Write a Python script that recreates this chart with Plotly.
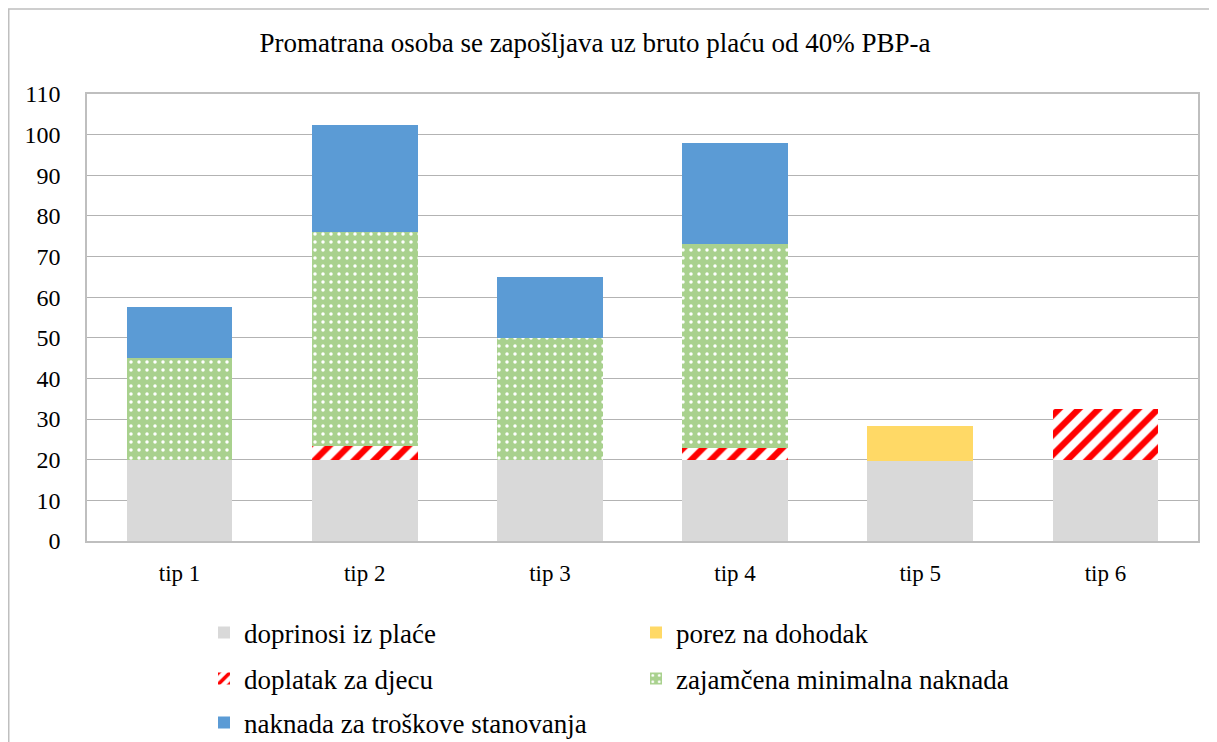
import plotly.graph_objects as go

categories = ["tip 1", "tip 2", "tip 3", "tip 4", "tip 5", "tip 6"]

doprinosi = [20, 20, 20, 20, 19.8, 20]
porez = [0, 0, 0, 0, 8.5, 0]
doplatak = [0, 3.5, 0, 3, 0, 12.5]
zajamcena = [25, 52.5, 30, 50, 0, 0]
naknada = [12.5, 26.3, 15, 25, 0, 0]

FONT = "Liberation Serif"

# the page body adds an 8px margin, so the figure is drawn 8px smaller
W, H = 1209, 734
L, T, R, B = 79, 86, 19, 201
PW, PH = W - L - R, H - T - B

fig = go.Figure()

fig.add_trace(go.Bar(x=categories, y=doprinosi, name="doprinosi iz plaće",
                     marker=dict(color="#d9d9d9"), legend="legend"))
fig.add_trace(go.Bar(x=categories, y=porez, name="porez na dohodak",
                     marker=dict(color="#ffd966"), legend="legend"))
fig.add_trace(go.Bar(x=categories, y=doplatak, name="doplatak za djecu",
                     marker=dict(color="white",
                                 pattern=dict(shape="/", fgcolor="#ff0000", bgcolor="white",
                                              size=14, solidity=0.45, fillmode="replace")),
                     legend="legend2"))
fig.add_trace(go.Bar(x=categories, y=zajamcena, name="zajamčena minimalna naknada",
                     marker=dict(color="#a9d18e",
                                 pattern=dict(shape=".", fgcolor="white", bgcolor="#a9d18e",
                                              size=8, solidity=0.15, fillmode="replace")),
                     legend="legend2"))
fig.add_trace(go.Bar(x=categories, y=naknada, name="naknada za troškove stanovanja",
                     marker=dict(color="#5b9bd5"), legend="legend3"))

fig.update_traces(marker_line_width=0, hoverinfo="skip")

legend_common = dict(orientation="h", xanchor="left", yanchor="middle",
                     entrywidth=387, entrywidthmode="pixels",
                     font=dict(family=FONT, size=27, color="black"),
                     bgcolor="rgba(0,0,0,0)", itemclick=False, traceorder="normal")

LX = (196 - L) / PW

fig.update_layout(
    width=W, height=H,
    barmode="stack", bargap=0.43,
    paper_bgcolor="white", plot_bgcolor="white",
    margin=dict(l=L, r=R, t=T, b=B, autoexpand=False),
    font=dict(family=FONT, size=20, color="black"),
    title=dict(text="Promatrana osoba se zapošljava uz bruto plaću od 40% PBP-a",
               x=587 / W, xref="container", xanchor="center",
               y=1 - 35 / H, yref="container", yanchor="middle",
               font=dict(family=FONT, size=27, color="black")),
    xaxis=dict(showgrid=False, showline=True, linecolor="#bfbfbf", linewidth=1.5,
               mirror=True, ticks="", ticklabelstandoff=11, automargin=False,
               tickfont=dict(family=FONT, size=23, color="black")),
    yaxis=dict(range=[0, 110], dtick=10, showgrid=True, gridcolor="#b3b3b3", gridwidth=1.2,
               showline=True, linecolor="#bfbfbf", linewidth=1.5, mirror=True,
               ticks="", ticklabelstandoff=20, zeroline=False, automargin=False,
               tickfont=dict(family=FONT, size=24, color="black")),
    legend=dict(x=LX, y=-(633 - 541) / PH, **legend_common),
    legend2=dict(x=LX, y=-(679 - 541) / PH, **legend_common),
    legend3=dict(x=LX, y=-(723 - 541) / PH, **legend_common),
    shapes=[dict(type="rect", xref="paper", yref="paper",
                 x0=-(L - 0.75) / PW, x1=1 + (R + 20) / PW,
                 y0=-(B + 20) / PH, y1=1 + (T - 1) / PH,
                 line=dict(color="#bfbfbf", width=1.5), fillcolor="rgba(0,0,0,0)",
                 layer="below")],
)

fig.write_html("out.html")
